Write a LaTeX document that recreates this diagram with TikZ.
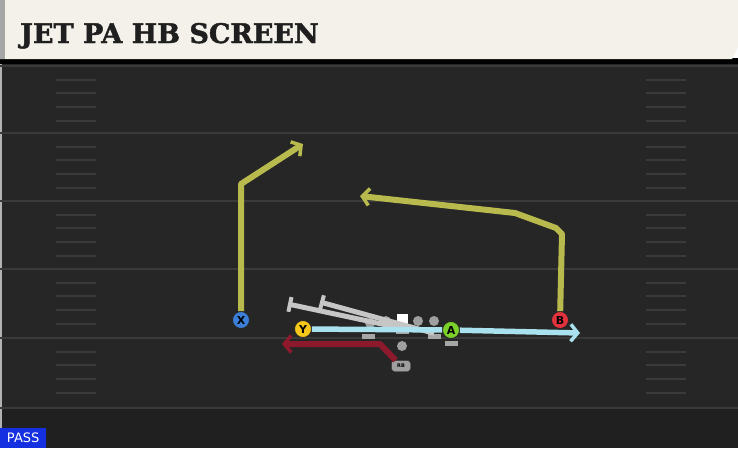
\documentclass[tikz,border=0pt]{standalone}
\usepackage{fontspec}
\setsansfont{DejaVu Sans}
\newfontfamily\slabfont{DejaVu Serif}[BoldFeatures={FakeBold=1.6}]
\usetikzlibrary{arrows.meta}
\definecolor{fieldgray}{HTML}{262626}
\definecolor{endgray}{HTML}{202020}
\definecolor{linegray}{HTML}{3A3A3A}
\definecolor{titlecream}{HTML}{F4F1EA}
\definecolor{routeolive}{HTML}{B8BA4E}
\definecolor{routeblue}{HTML}{A9E1EE}
\definecolor{routered}{HTML}{8C1A2C}
\definecolor{blockgray}{HTML}{C6C6C6}
\definecolor{xblue}{HTML}{3C7FD9}
\definecolor{yyellow}{HTML}{F5C71A}
\definecolor{agreen}{HTML}{7BD12A}
\definecolor{bred}{HTML}{E2323D}
\definecolor{passblue}{HTML}{1530E0}
\begin{document}
\begin{tikzpicture}[x=1pt, y=-1pt,   % one unit = one pixel of the play card
  player/.style={circle, draw=black!85, line width=0.8pt, minimum size=17pt, inner sep=0pt, font=\sffamily\bfseries\fontsize{11}{11}\selectfont},
  lineman/.style={circle, fill=gray!75, minimum size=10pt, inner sep=0pt},
  stance/.style={fill=gray!70, minimum width=13pt, minimum height=5pt, inner sep=0pt},
  route/.style={line width=6pt, line join=round, -{Straight Barb[length=7pt, width=17pt, line width=3.5pt]}},
  block/.style={draw=blockgray, line width=5pt, {Bar[width=15pt, line width=4pt]}-},
  hash/.style={draw=linegray, line width=1.5pt}]
\useasboundingbox (0,0) rectangle (738,448);
% field
\fill[fieldgray] (0,60) rectangle (738,448);
\fill[endgray] (0,408) rectangle (738,448);
\draw[gray!60, line width=2pt] (1,60) -- (1,448);
\foreach \yl in {66,133,201,269,338,408}
  \draw[linegray, line width=2pt] (0,\yl) -- (738,\yl);
\foreach \yl in {66,133,201,269,338}
  \foreach \dy in {14,27,41,55} {
    \draw[hash] (56,\yl+\dy) -- (96,\yl+\dy);
    \draw[hash] (646,\yl+\dy) -- (686,\yl+\dy);
  }
% title bar
\fill[black] (0,58) rectangle (738,64);
\fill[titlecream] (0,0) -- (738,0) -- (738,47) -- (732,59) -- (0,59) -- cycle;
\fill[gray!70] (0,0) rectangle (5,59);
\node[anchor=base west, inner sep=0pt, text=black!88, font=\slabfont\bfseries\fontsize{27}{27}\selectfont] (title) at (20,43) {JET PA HB SCREEN};
\node[anchor=south west, fill=passblue, text=white, inner sep=0pt, minimum width=46pt, minimum height=20pt, font=\sffamily\fontsize{13}{13}\selectfont] (pass) at (0,448) {PASS};
% offense
\node[lineman] (LT) at (370,323) {};
\node[lineman] (LG) at (386,321) {};
\node[fill=white, minimum size=11pt, inner sep=0pt] (C) at (402,319) {};
\node[lineman] (RG) at (418,321) {};
\node[lineman] (RT) at (434,321) {};
\node[stance] (LTbase) at (368,336) {};
\node[stance] (Cbase) at (402,331) {};
\node[stance] (RTbase) at (434,336) {};
\node[stance] (Abase) at (451,343) {};
\node[lineman] (QB) at (402,346) {};
\node[fill=gray!75, draw=black!80, rounded corners=3pt, minimum width=19pt, minimum height=11pt, inner sep=0pt, font=\sffamily\bfseries\fontsize{5}{5}\selectfont] (RB) at (401,366) {RB};
\node[player, fill=xblue] (X) at (241,320) {X};
\node[player, fill=yyellow] (Y) at (303,329) {Y};
\node[player, fill=agreen] (A) at (451,330) {A};
\node[player, fill=bred] (B) at (560,320) {B};
% pulling blocks
\coordinate (pull1) at (288,304);
\coordinate (pull2) at (320,302);
\draw[block] (pull1) -- (Cbase.north);
\draw[block] (pull2) -- (RTbase.north);
% routes
\coordinate (Xbreak) at (241,184);
\coordinate (Xend) at (303,144);
\draw[route, routeolive] (X) -- (Xbreak) -- (Xend);
\coordinate (Bbreak) at (562,234);
\coordinate (Bturn) at (556,228);
\coordinate (Bbend) at (515,213);
\coordinate (Bend) at (360,196);
\draw[route, routeolive] (B) -- (Bbreak) -- (Bturn) -- (Bbend) -- (Bend);
\coordinate (Yend) at (580,333);
\draw[routeblue, line width=5.5pt] (Y) -- (A);
\draw[route, routeblue, line width=5.5pt] (A) -- (Yend);
\coordinate (RBturn) at (380,344);
\coordinate (RBend) at (282,344);
\draw[route, routered] (RB) -- (RBturn) -- (RBend);
\end{tikzpicture}
\end{document}
